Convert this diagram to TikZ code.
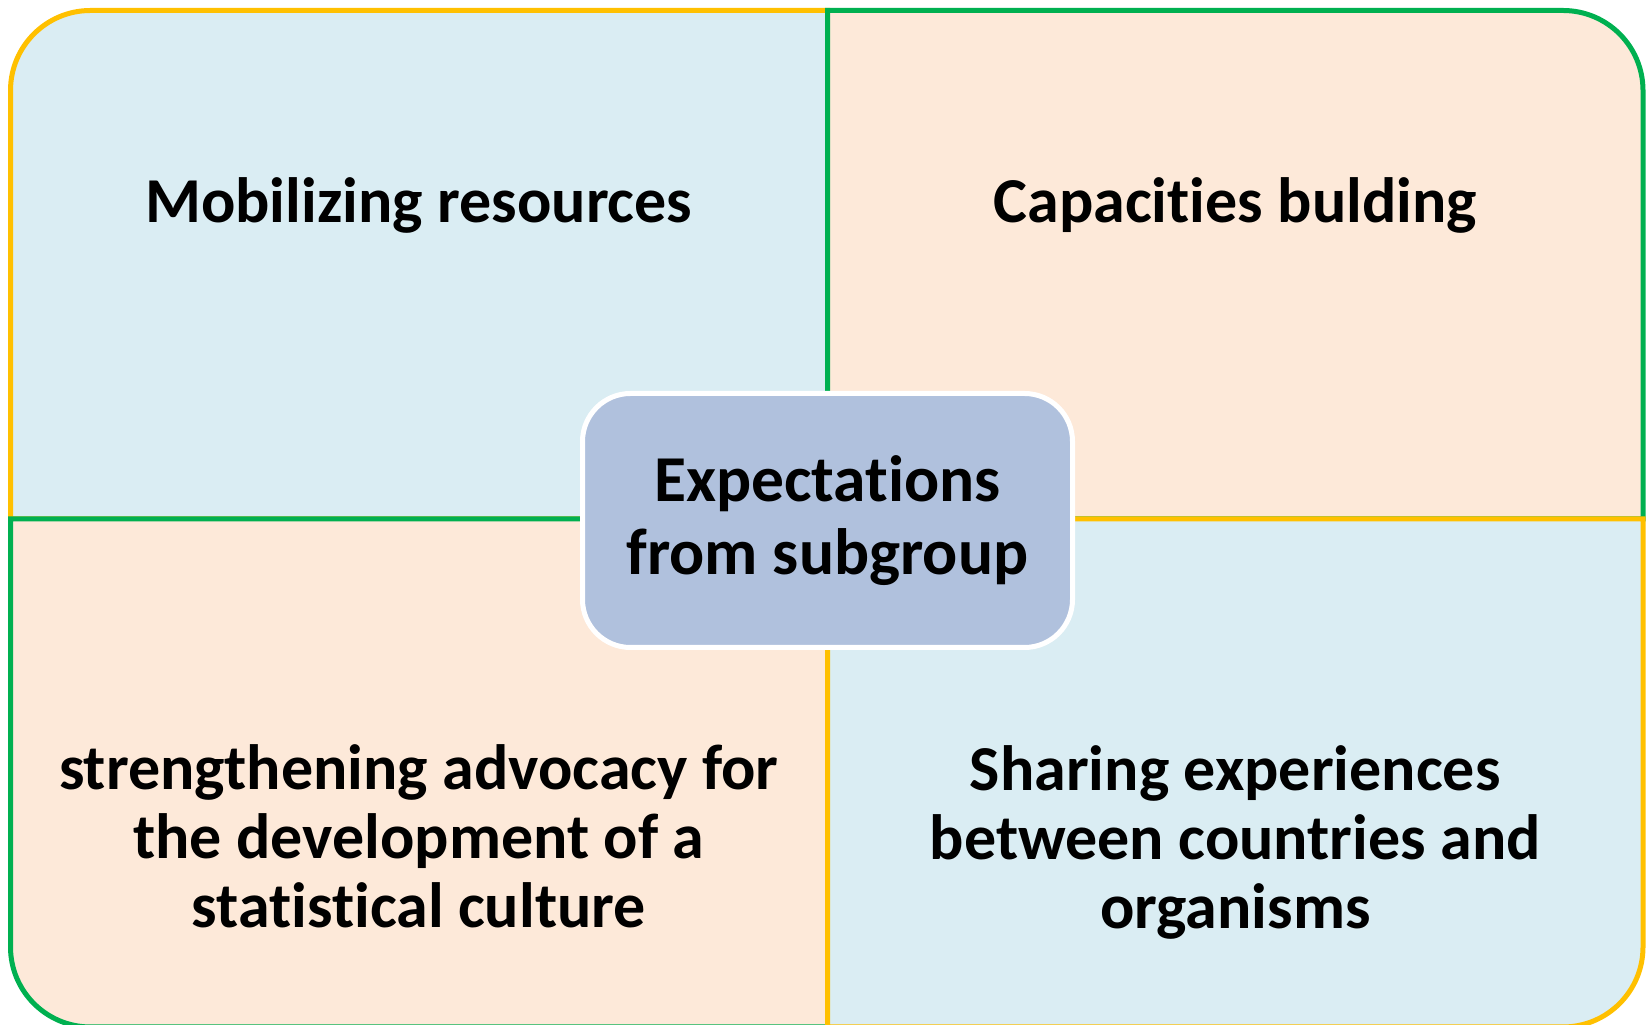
\documentclass[tikz,border=0pt]{standalone}
\usepackage{fontspec}
\setmainfont{Carlito}[Ligatures=NoCommon]
\definecolor{qblue}{HTML}{DAEDF3}
\definecolor{qpeach}{HTML}{FDE9D9}
\definecolor{qorange}{HTML}{FFC000}
\definecolor{qgreen}{HTML}{00B050}
\definecolor{cfill}{HTML}{B0C1DD}
\tikzset{
  quad/.style={line width=5pt, line join=miter},
  qtext/.style={align=center, inner sep=0pt, text=black,
    font=\fontsize{64}{69}\selectfont\bfseries},
  ctr/.style={draw=white, line width=5pt, fill=cfill, rounded corners=48pt,
    minimum width=490pt, minimum height=254pt, inner sep=0pt, align=center,
    font=\fontsize{65.5}{73}\selectfont\bfseries},
}
\begin{document}
\begin{tikzpicture}[x=1pt,y=1pt]
\useasboundingbox (0,0) rectangle (1649,1025);
% geometry
\def\L{10.5}\def\R{1643}\def\T{1014.5}\def\B{-2}\def\X{827.5}\def\Y{506}
\coordinate (m) at (\X,\Y);
% top-left quadrant
\draw[quad, draw=qorange, fill=qblue] (m) -- (\L,\Y) -- (\L,\T-80)
  arc[start angle=180, end angle=90, radius=80] -- (\X,\T) -- cycle;
% top-right quadrant
\draw[quad, draw=qgreen, fill=qpeach] (m) -- (\X,\T) -- (\R-80,\T)
  arc[start angle=90, end angle=0, radius=80] -- (\R,\Y) -- cycle;
% bottom-left quadrant
\draw[quad, draw=qgreen, fill=qpeach] (m) -- (\L,\Y) -- (\L,\B+80)
  arc[start angle=180, end angle=270, radius=80] -- (\X,\B) -- cycle;
% bottom-right quadrant
\draw[quad, draw=qorange, fill=qblue] (m) -- (\R,\Y) -- (\R,\B+80)
  arc[start angle=0, end angle=-90, radius=80] -- (\X,\B) -- cycle;
% texts
\node[qtext] (tl) at (418.75,820) {Mobilizing resources};
\node[qtext] (tr) at (1235.25,820) {Capacities bulding};
\node[qtext] (bl) at (418.75,189) {strengthening advocacy for\\the development of a\\statistical culture};
\node[qtext] (br) at (1235.25,183) {Sharing experiences\\between countries and\\organisms};
% center
\node[ctr] (c) at (827.5,504.5) {Expectations\\from subgroup};
\end{tikzpicture}
\end{document}
